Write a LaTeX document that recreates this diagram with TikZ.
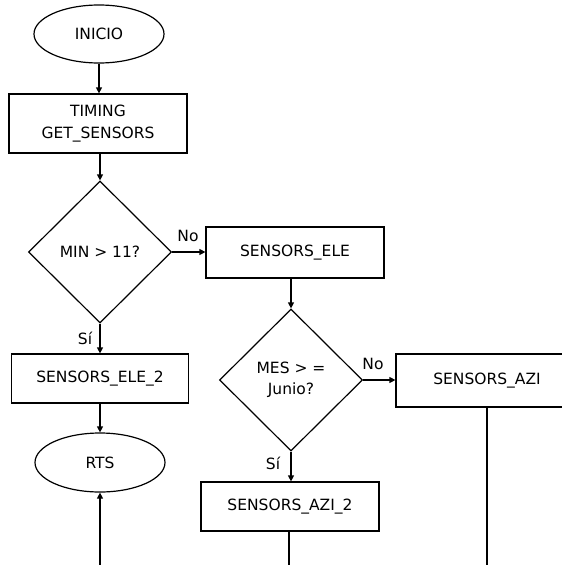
\documentclass[tikz,border=0pt]{standalone}
\usepackage{fontspec}
\setmainfont{DejaVu Sans}
\usetikzlibrary{shapes.geometric,arrows.meta}
\begin{document}
\begin{tikzpicture}[x=1pt,y=-1pt,
  every node/.style={font=\fontsize{15.5}{21.5}\selectfont},
  base/.style={draw, line width=1.2pt, inner sep=0pt},
  term/.style={base, ellipse, minimum width=130pt, minimum height=58pt},
  proc/.style={base, rectangle, align=center},
  dec/.style={base, diamond, aspect=1, minimum width=143pt, minimum height=142pt, align=center},
  flow/.style={line width=1.2pt, -{Triangle[length=6pt,width=6pt]}},
  plain/.style={line width=1.2pt},
  lbl/.style={inner sep=0pt}
]
\useasboundingbox (0,0) rectangle (562,565);
\clip (0,0) rectangle (562,565);

% left column
\node[term] (inicio) at (99,34) {INICIO};
\node[proc, minimum width=178pt, minimum height=59pt] (timing) at (98,123.5) {TIMING\\GET\_SENSORS};
\node[dec] (min) at (100,252) {MIN > 11?};
\node[proc, minimum width=177pt, minimum height=49pt] (ele2) at (100,378.5) {SENSORS\_ELE\_2};
\node[term, minimum height=59pt] (rts) at (100,462.5) {RTS};

% middle column
\node[proc, minimum width=178pt, minimum height=51pt] (ele) at (295,252.5) {SENSORS\_ELE};
\node[dec] (mes) at (291,380) {MES > =\\Junio?};
\node[proc, minimum width=178pt, minimum height=49pt] (azi2) at (290,506.5) {SENSORS\_AZI\_2};

% right column
\node[proc, minimum width=182pt, minimum height=53pt] (azi) at (487,380.5) {SENSORS\_AZI};

% branch labels
\node[lbl] (no1) at (188,236) {No};
\node[lbl] (si1) at (85,338) {Sí};
\node[lbl] (no2) at (373,364) {No};
\node[lbl] (si2) at (273,463) {Sí};

% loose ends leaving the picture
\coordinate (aziend) at (487,570);
\coordinate (azi2end) at (289,570);
\coordinate (rtsin) at (100,570);

% connectors
\draw[flow] (inicio.south) -- (inicio.south |- timing.north);
\draw[flow] (min.north |- timing.south) -- (min.north);
\draw[flow] (min.south) -- (min.south |- ele2.north);
\draw[flow] (ele2.south) -- (rts.north);
\draw[flow] (min.east) -- (min.east -| ele.west);
\draw[flow] (mes.north |- ele.south) -- (mes.north);
\draw[flow] (mes.east) -- (mes.east -| azi.west);
\draw[flow] (mes.south) -- (mes.south |- azi2.north);
\draw[plain] (azi.south) -- (aziend);
\draw[plain] (azi2end |- azi2.south) -- (azi2end);
\draw[flow] (rtsin) -- (rts.south);
\end{tikzpicture}
\end{document}
